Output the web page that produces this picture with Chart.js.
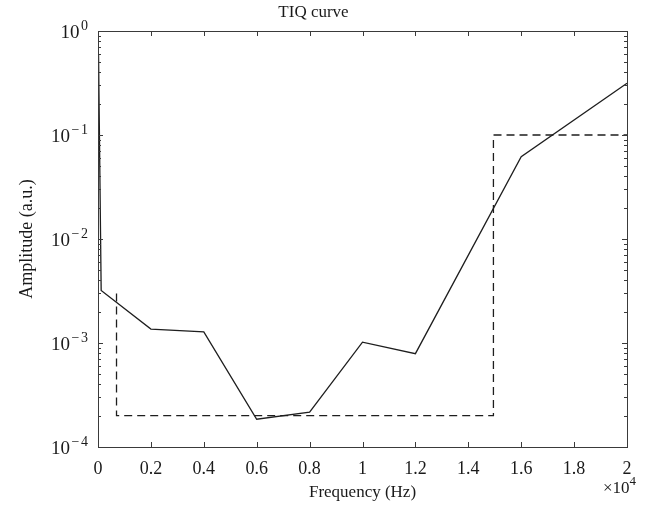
<!DOCTYPE html>
<html>
<head>
<meta charset="utf-8">
<script src="https://cdn.jsdelivr.net/npm/chart.js@4"></script>
<style>
  body { margin: 0; background: #fff; }
  canvas { display: block; }
</style>
</head>
<body>
<canvas id="tiqChart" width="653" height="513"></canvas>
<script>
// solid curve (TIQ)
const freqSolid = [20, 120, 2000, 4000, 6000, 8000, 10000, 12000, 16000, 20000];
const ampSolid = [0.6, 3.2e-3, 1.36e-3, 1.28e-3, 1.85e-4, 2.16e-4, 1.02e-3, 7.9e-4, 6.2e-2, 0.314];
// dashed step curve
const freqStep = [700, 700, 14950, 14950, 20000];
const ampStep = [3e-3, 2e-4, 2e-4, 0.1, 0.1];
// axis ticks
const xTicks = [0, 2000, 4000, 6000, 8000, 10000, 12000, 14000, 16000, 18000, 20000];
const yExponents = [0, -1, -2, -3, -4];

const serif = '"Liberation Serif", "Times New Roman", serif';
const textColor = '#1a1a1a';

function toPoints(xs, ys) {
    return xs.map(function (x, i) { return { x: x, y: ys[i] }; });
}

// box, inward ticks, superscript labels (MATLAB look)
const axesDecor = {
    id: 'axesDecor',
    afterDraw: function (chart) {
        const ctx = chart.ctx;
        const area = chart.chartArea;
        const xs = chart.scales.x;
        const ys = chart.scales.y;
        ctx.save();
        ctx.strokeStyle = '#3a3a3a';
        ctx.lineWidth = 1;
        ctx.strokeRect(area.left + 0.5, area.top + 0.5, area.right - area.left, area.bottom - area.top);

        ctx.beginPath();
        xTicks.forEach(function (v) {
            const px = Math.round(xs.getPixelForValue(v)) + 0.5;
            ctx.moveTo(px, area.bottom); ctx.lineTo(px, area.bottom - 5);
            ctx.moveTo(px, area.top); ctx.lineTo(px, area.top + 5);
        });
        for (let e = -4; e < 0; e++) {
            for (let m = 1; m < 10; m++) {
                const py = Math.round(ys.getPixelForValue(m * Math.pow(10, e))) + 0.5;
                const len = m === 1 ? 5 : 3;
                ctx.moveTo(area.left, py); ctx.lineTo(area.left + len, py);
                ctx.moveTo(area.right, py); ctx.lineTo(area.right - len, py);
            }
        }
        ctx.stroke();

        // y labels 10^n
        ctx.fillStyle = textColor;
        ctx.textBaseline = 'alphabetic';
        ctx.textAlign = 'left';
        yExponents.forEach(function (e) {
            const py = ys.getPixelForValue(Math.pow(10, e));
            const right = 88;
            ctx.font = '14px ' + serif;
            const digit = String(Math.abs(e));
            const dw = ctx.measureText(digit).width;
            let xe = right - dw;
            ctx.fillText(digit, xe, py - 1);
            if (e < 0) {
                const mw = ctx.measureText('\u2212').width;
                xe -= mw + 1.5;
                ctx.fillText('\u2212', xe, py - 1);
            }
            ctx.font = '19px ' + serif;
            const bw = ctx.measureText('10').width;
            ctx.fillText('10', xe - bw - 1.5, py + 7);
        });

        // x multiplier
        ctx.font = '17px ' + serif;
        const mw = ctx.measureText('\u00d710').width;
        ctx.font = '13px ' + serif;
        const sw = ctx.measureText('4').width;
        const x0 = area.right + 9 - sw - mw;
        ctx.font = '17px ' + serif;
        ctx.fillText('\u00d710', x0, 493);
        ctx.font = '13px ' + serif;
        ctx.fillText('4', x0 + mw, 485);
        ctx.restore();
    }
};

new Chart(document.getElementById('tiqChart'), {
    type: 'line',
    data: {
        datasets: [{
            label: 'TIQ',
            data: toPoints(freqSolid, ampSolid),
            borderColor: '#1e1e1e',
            borderWidth: 1.3,
            pointRadius: 0,
            tension: 0
        }, {
            label: 'Step',
            data: toPoints(freqStep, ampStep),
            borderColor: '#1e1e1e',
            borderWidth: 1.3,
            borderDash: [8, 5],
            pointRadius: 0,
            tension: 0
        }]
    },
    options: {
        responsive: false,
        animation: false,
        layout: { padding: { top: 0, right: 26, bottom: 0, left: 0 } },
        plugins: {
            legend: { display: false },
            tooltip: { enabled: false },
            title: {
                display: true,
                text: 'TIQ curve',
                color: textColor,
                font: { family: serif, size: 17, weight: 'normal' },
                padding: { top: 2, bottom: 8.6 }
            }
        },
        scales: {
            x: {
                type: 'linear',
                min: 0,
                max: 20000,
                afterFit: function (s) { s.height = 66; },
                afterBuildTicks: function (s) { s.ticks = xTicks.map(function (v) { return { value: v }; }); },
                grid: { display: false, drawTicks: false },
                border: { display: false },
                ticks: {
                    padding: 11,
                    color: textColor,
                    font: { family: serif, size: 18 },
                    maxRotation: 0,
                    callback: function (v) { return String(Math.round(v / 1000) / 10); }
                },
                title: {
                    display: true,
                    text: 'Frequency (Hz)',
                    color: textColor,
                    font: { family: serif, size: 17 },
                    padding: { top: 0, bottom: 10 }
                }
            },
            y: {
                type: 'logarithmic',
                min: 1e-4,
                max: 1,
                afterFit: function (s) { s.width = 98; },
                grid: { display: false, drawTicks: false },
                border: { display: false },
                ticks: { display: false },
                title: {
                    display: true,
                    text: 'Amplitude (a.u.)',
                    color: textColor,
                    font: { family: serif, size: 18 },
                    padding: { top: 16, bottom: 0 }
                }
            }
        }
    },
    plugins: [axesDecor]
});
</script>
</body>
</html>
